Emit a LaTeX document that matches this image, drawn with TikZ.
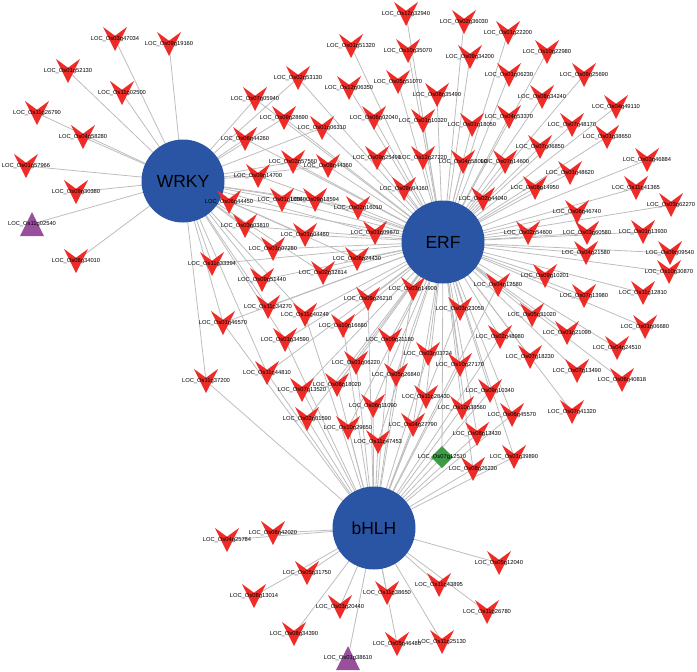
\documentclass[tikz,border=0pt]{standalone}
\usepackage{fontspec}
\setmainfont{Liberation Sans}
\usepackage{xcolor}
\definecolor{hubblue}{HTML}{2A55A4}
\definecolor{vred}{HTML}{EE2B26}
\definecolor{tpurp}{HTML}{984F9C}
\definecolor{dgreen}{HTML}{3D9B48}
\definecolor{edgegray}{HTML}{BDBDBD}
\usepackage{tikz}
\usetikzlibrary{backgrounds}
\tikzset{
  hub/.style={circle,fill=hubblue,minimum size=83pt,inner sep=0pt,
              font=\fontsize{17.5}{20}\selectfont},
  lbl/.style={inner sep=0pt,font=\fontsize{5.8}{6}\selectfont},
  leaf/.style={inner sep=0pt,minimum size=24pt,label={[lbl]center:#1}},
  gene/.style={leaf=#1,path picture={\fill[vred]
      (path picture bounding box.north west) -- ([yshift=3.3pt]path picture bounding box.center)
      -- (path picture bounding box.north east) -- (path picture bounding box.south) -- cycle;}},
  gtri/.style={leaf=#1,path picture={\fill[tpurp]
      (path picture bounding box.south west) -- (path picture bounding box.south east)
      -- (path picture bounding box.north) -- cycle;}},
  gdia/.style={leaf=#1,minimum size=22pt,path picture={\fill[dgreen]
      (path picture bounding box.north) -- (path picture bounding box.east)
      -- (path picture bounding box.south) -- (path picture bounding box.west) -- cycle;}},
  link/.style={draw=edgegray,line width=0.8pt},
}

\begin{document}
\begin{tikzpicture}[x=1pt,y=-1pt]
  \useasboundingbox (0,0) rectangle (697,672);

  % hubs
  \node[hub] (wrky) at (183,181) {WRKY};
  \node[hub] (erf) at (443,242) {ERF};
  \node[hub] (bhlh) at (374,528) {bHLH};

  % WRKY only
  \node[gene={LOC\_Os03g47034}] (g03g47034) at (115,39) {};
  \node[gene={LOC\_Os09g19160}] (g09g19160) at (169,44) {};
  \node[gene={LOC\_Os01g52130}] (g01g52130) at (68,71) {};
  \node[gene={LOC\_Os11g02500}] (g11g02500) at (122,93) {};
  \node[gene={LOC\_Os11g26790}] (g11g26790) at (37,113) {};
  \node[gene={LOC\_Os04g58280}] (g04g58280) at (83,137) {};
  \node[gene={LOC\_Os01g57966}] (g01g57966) at (26,166) {};
  \node[gene={LOC\_Os09g30380}] (g09g30380) at (76,192) {};
  \node[gtri={LOC\_Os11g02540}] (g11g02540) at (32,224) {};
  \node[gene={LOC\_Os08g34010}] (g08g34010) at (76,261) {};

  % WRKY and ERF
  \node[gene={LOC\_Os02g53130}] (g02g53130) at (298,78) {};
  \node[gene={LOC\_Os07g05940}] (g07g05940) at (255,99) {};
  \node[gene={LOC\_Os09g28690}] (g09g28690) at (284,118) {};
  \node[gene={LOC\_Os01g06310}] (g01g06310) at (322,128) {};
  \node[gene={LOC\_Os06g44260}] (g06g44260) at (245,139) {};
  \node[gene={LOC\_Os02g57560}] (g02g57560) at (293,162) {};
  \node[gene={LOC\_Os08g44360}] (g08g44360) at (328,166) {};
  \node[gene={LOC\_Os09g14700}] (g09g14700) at (258,176) {};
  \node[gene={LOC\_Os01g10040}] (g01g10040) at (282,200) {};
  \node[gene={LOC\_Os09g18594}] (g09g18594) at (315,200) {};
  \node[gene={LOC\_Os02g16010}] (g02g16010) at (358,208) {};
  \node[gene={LOC\_Os06g44450}] (g06g44450) at (229,202) {};
  \node[gene={LOC\_Os03g03810}] (g03g03810) at (245,226) {};
  \node[gene={LOC\_Os01g04460}] (g01g04460) at (305,235) {};
  \node[gene={LOC\_Os01g09870}] (g01g09870) at (375,233) {};
  \node[gene={LOC\_Os01g07280}] (g01g07280) at (273,249) {};
  \node[gene={LOC\_Os06g24430}] (g06g24430) at (357,259) {};
  \node[gene={LOC\_Os02g32814}] (g02g32814) at (323,273) {};
  \node[gene={LOC\_Os09g51440}] (g09g51440) at (262,280) {};
  \node[gene={LOC\_Os11g34270}] (g11g34270) at (268,307) {};
  \node[gene={LOC\_Os11g33394}] (g11g33394) at (212,264) {};

  % WRKY, ERF and bHLH
  \node[gene={LOC\_Os01g46570}] (g01g46570) at (223,323) {};
  \node[gene={LOC\_Os11g40249}] (g11g40249) at (305,315) {};
  \node[gene={LOC\_Os01g34590}] (g01g34590) at (285,340) {};
  \node[gene={LOC\_Os11g44810}] (g11g44810) at (267,373) {};
  \node[gene={LOC\_Os11g37200}] (g11g37200) at (206,381) {};

  % ERF only
  \node[gene={LOC\_Os12g32940}] (g12g32940) at (406,14) {};
  \node[gene={LOC\_Os02g36030}] (g02g36030) at (464,22) {};
  \node[gene={LOC\_Os01g22200}] (g01g22200) at (508,33) {};
  \node[gene={LOC\_Os01g51320}] (g01g51320) at (351,46) {};
  \node[gene={LOC\_Os10g35070}] (g10g35070) at (408,51) {};
  \node[gene={LOC\_Os09g34200}] (g09g34200) at (470,57) {};
  \node[gene={LOC\_Os10g22980}] (g10g22980) at (547,52) {};
  \node[gene={LOC\_Os12g06350}] (g12g06350) at (349,88) {};
  \node[gene={LOC\_Os05g51070}] (g05g51070) at (398,82) {};
  \node[gene={LOC\_Os01g06230}] (g01g06230) at (509,75) {};
  \node[gene={LOC\_Os09g25690}] (g09g25690) at (584,75) {};
  \node[gene={LOC\_Os08g35490}] (g08g35490) at (437,95) {};
  \node[gene={LOC\_Os08g34240}] (g08g34240) at (542,97) {};
  \node[gene={LOC\_Os04g49110}] (g04g49110) at (616,107) {};
  \node[gene={LOC\_Os06g02040}] (g06g02040) at (374,118) {};
  \node[gene={LOC\_Os01g10320}] (g01g10320) at (423,121) {};
  \node[gene={LOC\_Os04g53370}] (g04g53370) at (509,117) {};
  \node[gene={LOC\_Os07g48170}] (g07g48170) at (572,125) {};
  \node[gene={LOC\_Os01g18050}] (g01g18050) at (472,125) {};
  \node[gene={LOC\_Os01g38650}] (g01g38650) at (607,137) {};
  \node[gene={LOC\_Os07g06850}] (g07g06850) at (540,147) {};
  \node[gene={LOC\_Os09g25490}] (g09g25490) at (377,158) {};
  \node[gene={LOC\_Os12g27220}] (g12g27220) at (423,158) {};
  \node[gene={LOC\_Os04g58090}] (g04g58090) at (463,162) {};
  \node[gene={LOC\_Os07g14600}] (g07g14600) at (505,162) {};
  \node[gene={LOC\_Os03g46884}] (g03g46884) at (647,160) {};
  \node[gene={LOC\_Os01g48620}] (g01g48620) at (570,173) {};
  \node[gene={LOC\_Os09g04160}] (g09g04160) at (404,189) {};
  \node[gene={LOC\_Os08g14950}] (g08g14950) at (535,188) {};
  \node[gene={LOC\_Os11g41365}] (g11g41365) at (636,188) {};
  \node[gene={LOC\_Os02g44040}] (g02g44040) at (483,199) {};
  \node[gene={LOC\_Os03g62270}] (g03g62270) at (671,205) {};
  \node[gene={LOC\_Os06g46740}] (g06g46740) at (577,212) {};
  \node[gene={LOC\_Os02g54600}] (g02g54600) at (528,233) {};
  \node[gene={LOC\_Os03g60580}] (g03g60580) at (587,233) {};
  \node[gene={LOC\_Os01g13930}] (g01g13930) at (643,232) {};
  \node[gene={LOC\_Os04g21580}] (g04g21580) at (586,253) {};
  \node[gene={LOC\_Os09g09540}] (g09g09540) at (670,253) {};
  \node[gene={LOC\_Os10g30870}] (g10g30870) at (669,272) {};
  \node[gene={LOC\_Os09g10201}] (g09g10201) at (545,276) {};
  \node[gene={LOC\_Os07g13980}] (g07g13980) at (584,296) {};
  \node[gene={LOC\_Os11g12810}] (g11g12810) at (643,293) {};
  \node[gene={LOC\_Os05g31020}] (g05g31020) at (532,315) {};
  \node[gene={LOC\_Os01g21090}] (g01g21090) at (567,333) {};
  \node[gene={LOC\_Os01g06680}] (g01g06680) at (645,327) {};
  \node[gene={LOC\_Os04g24510}] (g04g24510) at (617,348) {};
  \node[gene={LOC\_Os07g18230}] (g07g18230) at (530,357) {};
  \node[gene={LOC\_Os07g13490}] (g07g13490) at (577,371) {};
  \node[gene={LOC\_Os06g40818}] (g06g40818) at (622,380) {};
  \node[gene={LOC\_Os07g41320}] (g07g41320) at (572,412) {};

  % ERF and bHLH
  \node[gene={LOC\_Os03g14900}] (g03g14900) at (413,289) {};
  \node[gene={LOC\_Os09g26210}] (g09g26210) at (368,299) {};
  \node[gene={LOC\_Os10g16680}] (g10g16680) at (343,326) {};
  \node[gene={LOC\_Os09g21180}] (g09g21180) at (390,340) {};
  \node[gene={LOC\_Os03g03724}] (g03g03724) at (428,354) {};
  \node[gene={LOC\_Os01g06220}] (g01g06220) at (356,363) {};
  \node[gene={LOC\_Os06g18020}] (g06g18020) at (337,385) {};
  \node[gene={LOC\_Os05g26840}] (g05g26840) at (396,375) {};
  \node[gene={LOC\_Os07g13520}] (g07g13520) at (302,390) {};
  \node[gene={LOC\_Os11g28430}] (g11g28430) at (426,397) {};
  \node[gene={LOC\_Os06g11090}] (g06g11090) at (373,406) {};
  \node[gene={LOC\_Os02g01590}] (g02g01590) at (307,419) {};
  \node[gene={LOC\_Os10g29650}] (g10g29650) at (348,428) {};
  \node[gene={LOC\_Os04g27790}] (g04g27790) at (413,425) {};
  \node[gene={LOC\_Os11g47453}] (g11g47453) at (378,442) {};
  \node[gene={LOC\_Os10g27170}] (g10g27170) at (460,365) {};
  \node[gene={LOC\_Os03g23050}] (g03g23050) at (460,309) {};
  \node[gene={LOC\_Os04g12580}] (g04g12580) at (498,285) {};
  \node[gene={LOC\_Os02g48980}] (g02g48980) at (500,337) {};
  \node[gene={LOC\_Os09g10340}] (g09g10340) at (490,391) {};
  \node[gene={LOC\_Os10g38560}] (g10g38560) at (462,408) {};
  \node[gene={LOC\_Os08g13430}] (g08g13430) at (477,434) {};
  \node[gene={LOC\_Os06g45570}] (g06g45570) at (512,415) {};
  \node[gdia={LOC\_Os07g12510}] (g07g12510) at (442,457) {};
  \node[gene={LOC\_Os08g26230}] (g08g26230) at (473,469) {};
  \node[gene={LOC\_Os01g39890}] (g01g39890) at (514,457) {};

  % bHLH only
  \node[gene={LOC\_Os05g12040}] (g05g12040) at (499,563) {};
  \node[gene={LOC\_Os11g26780}] (g11g26780) at (487,612) {};
  \node[gene={LOC\_Os11g43895}] (g11g43895) at (439,585) {};
  \node[gene={LOC\_Os11g38650}] (g11g38650) at (387,593) {};
  \node[gene={LOC\_Os05g31750}] (g05g31750) at (307,573) {};
  \node[gene={LOC\_Os06g42020}] (g06g42020) at (273,533) {};
  \node[gene={LOC\_Os04g25784}] (g04g25784) at (227,540) {};
  \node[gene={LOC\_Os08g13014}] (g08g13014) at (254,596) {};
  \node[gene={LOC\_Os03g20440}] (g03g20440) at (340,607) {};
  \node[gene={LOC\_Os08g34390}] (g08g34390) at (294,634) {};
  \node[gene={LOC\_Os05g46480}] (g05g46480) at (397,644) {};
  \node[gene={LOC\_Os11g25130}] (g11g25130) at (442,642) {};
  \node[gtri={LOC\_Os01g38610}] (g01g38610) at (348,658) {};

  % interactions
  \begin{scope}[on background layer]
    \foreach \g in {g03g47034,g09g19160,g01g52130,g11g02500,g11g26790,g04g58280,
        g01g57966,g09g30380,g11g02540,g08g34010,g02g53130,g07g05940,g09g28690,
        g01g06310,g06g44260,g02g57560,g08g44360,g09g14700,g01g10040,g09g18594,
        g02g16010,g06g44450,g03g03810,g01g04460,g01g09870,g01g07280,g06g24430,
        g02g32814,g09g51440,g11g34270,g11g33394,g01g46570,g11g40249,g01g34590,
        g11g44810,g11g37200}
      \draw[link] (wrky.center) -- (\g.center);
    \foreach \g in {g02g53130,g07g05940,g09g28690,g01g06310,g06g44260,g02g57560,
        g08g44360,g09g14700,g01g10040,g09g18594,g02g16010,g06g44450,g03g03810,
        g01g04460,g01g09870,g01g07280,g06g24430,g02g32814,g09g51440,g11g34270,
        g11g33394,g01g46570,g11g40249,g01g34590,g11g44810,
        g12g32940,g02g36030,g01g22200,g01g51320,g10g35070,g09g34200,g10g22980,
        g12g06350,g05g51070,g01g06230,g09g25690,g08g35490,g08g34240,g04g49110,
        g06g02040,g01g10320,g04g53370,g07g48170,g01g18050,g01g38650,g07g06850,
        g09g25490,g12g27220,g04g58090,g07g14600,g03g46884,g01g48620,g09g04160,
        g08g14950,g11g41365,g02g44040,g03g62270,g06g46740,g02g54600,g03g60580,
        g01g13930,g04g21580,g09g09540,g10g30870,g09g10201,g07g13980,g11g12810,
        g05g31020,g01g21090,g01g06680,g04g24510,g07g18230,g07g13490,g06g40818,
        g07g41320,g03g14900,g09g26210,g10g16680,g09g21180,g03g03724,g01g06220,
        g06g18020,g05g26840,g07g13520,g11g28430,g06g11090,g02g01590,g10g29650,
        g04g27790,g11g47453,g10g27170,g03g23050,g04g12580,g02g48980,g09g10340,
        g10g38560,g08g13430,g06g45570,g07g12510,g08g26230,g01g39890}
      \draw[link] (erf.center) -- (\g.center);
    \foreach \g in {g03g14900,g09g26210,g10g16680,g09g21180,g03g03724,g01g06220,
        g06g18020,g05g26840,g07g13520,g11g28430,g06g11090,g02g01590,g10g29650,
        g04g27790,g11g47453,g10g27170,g03g23050,g04g12580,g02g48980,g09g10340,
        g10g38560,g08g13430,g06g45570,g07g12510,g08g26230,g01g39890,
        g05g12040,g11g26780,g11g43895,g11g38650,g05g31750,g06g42020,g04g25784,
        g08g13014,g03g20440,g08g34390,g05g46480,g11g25130,g01g38610,
        g01g46570,g11g40249,g01g34590,g11g44810,g11g37200}
      \draw[link] (bhlh.center) -- (\g.center);
  \end{scope}
\end{tikzpicture}
\end{document}
